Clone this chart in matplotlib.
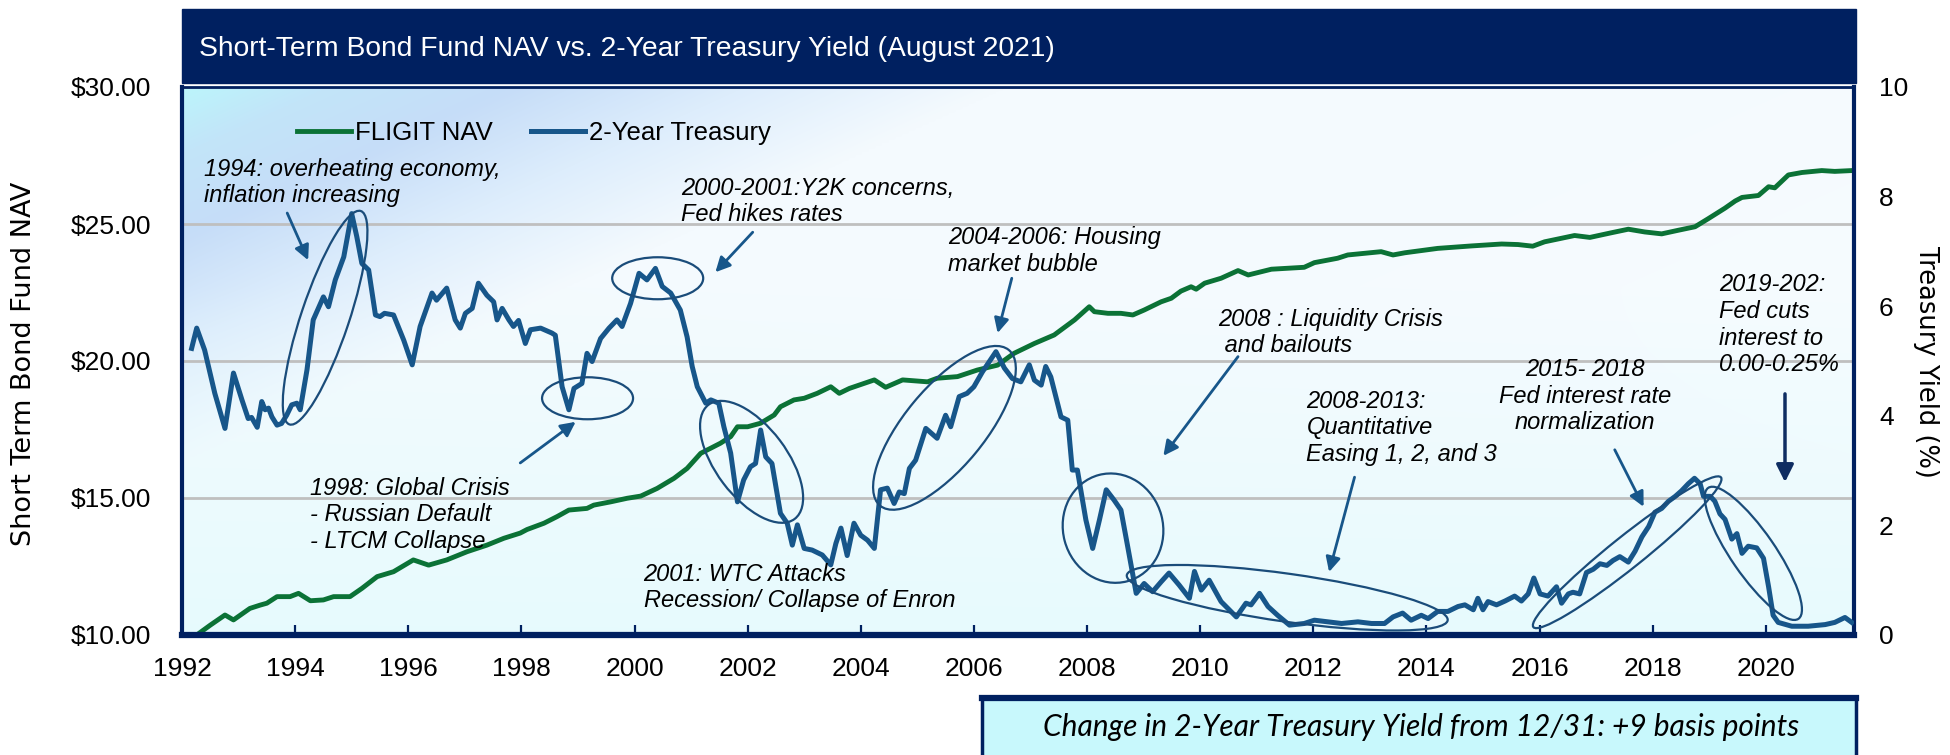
import matplotlib
matplotlib.use("Agg")
import matplotlib.pyplot as plt
import matplotlib.transforms as mtransforms
from matplotlib.patches import Ellipse, Rectangle
from matplotlib.lines import Line2D
import numpy as np

# 2-Year Treasury yield (%)
tsy_years = [1992.17, 1992.26, 1992.40, 1992.58, 1992.76, 1992.91, 1993.06, 1993.17, 1993.23, 1993.33,
             1993.41, 1993.47, 1993.53, 1993.59, 1993.68, 1993.76, 1993.85, 1993.94, 1994.03, 1994.09,
             1994.21, 1994.32, 1994.50, 1994.59, 1994.71, 1994.86, 1995.00, 1995.09, 1995.18, 1995.30,
             1995.42, 1995.50, 1995.58, 1995.74, 1995.92, 1996.07, 1996.21, 1996.42, 1996.50, 1996.68,
             1996.83, 1996.92, 1997.01, 1997.13, 1997.24, 1997.39, 1997.51, 1997.57, 1997.66, 1997.78,
             1997.86, 1997.95, 1998.07, 1998.16, 1998.34, 1998.54, 1998.60, 1998.72, 1998.84, 1998.93,
             1999.07, 1999.16, 1999.25, 1999.40, 1999.55, 1999.69, 1999.78, 1999.93, 2000.08, 2000.22,
             2000.37, 2000.49, 2000.64, 2000.81, 2000.93, 2001.02, 2001.11, 2001.26, 2001.35, 2001.49,
             2001.58, 2001.70, 2001.82, 2001.93, 2002.05, 2002.14, 2002.23, 2002.32, 2002.43, 2002.58,
             2002.70, 2002.79, 2002.88, 2003.00, 2003.14, 2003.32, 2003.47, 2003.56, 2003.65, 2003.76,
             2003.88, 2004.00, 2004.12, 2004.24, 2004.35, 2004.47, 2004.59, 2004.68, 2004.77, 2004.86,
             2004.97, 2005.15, 2005.35, 2005.50, 2005.59, 2005.74, 2005.88, 2006.00, 2006.15, 2006.39,
             2006.54, 2006.68, 2006.83, 2006.98, 2007.07, 2007.19, 2007.27, 2007.36, 2007.54, 2007.66,
             2007.74, 2007.83, 2007.98, 2008.10, 2008.22, 2008.34, 2008.48, 2008.60, 2008.72, 2008.87,
             2009.01, 2009.16, 2009.31, 2009.45, 2009.63, 2009.81, 2009.90, 2010.02, 2010.16, 2010.37,
             2010.64, 2010.81, 2010.90, 2011.05, 2011.20, 2011.37, 2011.58, 2011.84, 2012.02, 2012.26,
             2012.50, 2012.79, 2013.03, 2013.26, 2013.41, 2013.58, 2013.73, 2013.91, 2014.03, 2014.20,
             2014.38, 2014.56, 2014.68, 2014.83, 2014.91, 2015.00, 2015.09, 2015.24, 2015.39, 2015.56,
             2015.68, 2015.80, 2015.90, 2016.01, 2016.15, 2016.30, 2016.39, 2016.51, 2016.59, 2016.71,
             2016.83, 2016.95, 2017.07, 2017.19, 2017.30, 2017.42, 2017.57, 2017.69, 2017.81, 2017.93,
             2018.04, 2018.16, 2018.28, 2018.40, 2018.51, 2018.63, 2018.74, 2018.84, 2018.90, 2019.02,
             2019.10, 2019.19, 2019.28, 2019.40, 2019.49, 2019.58, 2019.69, 2019.84, 2019.96, 2020.05,
             2020.13, 2020.22, 2020.46, 2020.75, 2021.05, 2021.22, 2021.40, 2021.52]
tsy_yield = [5.23, 5.60, 5.20, 4.41, 3.77, 4.78, 4.29, 3.95, 3.97, 3.79,
             4.26, 4.11, 4.14, 3.98, 3.83, 3.86, 4.01, 4.20, 4.23, 4.11,
             4.84, 5.75, 6.17, 5.99, 6.48, 6.90, 7.69, 7.27, 6.78, 6.66,
             5.84, 5.81, 5.87, 5.84, 5.38, 4.93, 5.63, 6.24, 6.11, 6.33,
             5.75, 5.60, 5.87, 5.96, 6.42, 6.20, 6.08, 5.75, 5.96, 5.75,
             5.63, 5.74, 5.32, 5.57, 5.60, 5.51, 5.47, 4.53, 4.11, 4.50,
             4.59, 5.14, 4.99, 5.41, 5.60, 5.75, 5.63, 6.05, 6.60, 6.48,
             6.69, 6.36, 6.24, 5.93, 5.44, 4.90, 4.53, 4.23, 4.29, 4.23,
             3.80, 3.32, 2.43, 2.83, 3.07, 3.13, 3.74, 3.25, 3.13, 2.22,
             2.04, 1.64, 2.01, 1.58, 1.55, 1.46, 1.28, 1.67, 1.95, 1.45,
             2.04, 1.82, 1.73, 1.58, 2.65, 2.68, 2.40, 2.61, 2.58, 3.04,
             3.19, 3.77, 3.59, 4.01, 3.80, 4.35, 4.41, 4.53, 4.80, 5.17,
             4.87, 4.68, 4.62, 4.93, 4.65, 4.56, 4.90, 4.71, 3.98, 3.92,
             3.01, 3.01, 2.10, 1.58, 2.10, 2.65, 2.46, 2.28, 1.61, 0.76,
             0.94, 0.79, 0.97, 1.13, 0.91, 0.67, 1.16, 0.82, 1.00, 0.61,
             0.33, 0.58, 0.55, 0.76, 0.52, 0.36, 0.18, 0.21, 0.27, 0.24,
             0.21, 0.24, 0.21, 0.21, 0.33, 0.40, 0.27, 0.36, 0.30, 0.43,
             0.43, 0.52, 0.55, 0.46, 0.67, 0.46, 0.61, 0.55, 0.62, 0.71,
             0.62, 0.75, 1.04, 0.75, 0.71, 0.88, 0.58, 0.75, 0.78, 0.75,
             1.14, 1.20, 1.30, 1.27, 1.36, 1.43, 1.33, 1.53, 1.79, 1.98,
             2.24, 2.31, 2.44, 2.53, 2.63, 2.76, 2.86, 2.76, 2.53, 2.53,
             2.44, 2.21, 2.11, 1.75, 1.85, 1.49, 1.62, 1.59, 1.40, 0.88,
             0.36, 0.23, 0.16, 0.16, 0.19, 0.23, 0.32, 0.23]

# FLIGIT NAV ($)
nav_years = [1992.14, 1992.26, 1992.50, 1992.76, 1992.91, 1993.20, 1993.38, 1993.50, 1993.68, 1993.91,
             1994.06, 1994.27, 1994.50, 1994.68, 1994.97, 1995.18, 1995.45, 1995.74, 1996.09, 1996.36,
             1996.68, 1997.04, 1997.39, 1997.69, 1997.98, 1998.10, 1998.40, 1998.63, 1998.84, 1999.16,
             1999.28, 1999.58, 1999.87, 2000.11, 2000.40, 2000.70, 2000.93, 2001.17, 2001.52, 2001.70,
             2001.82, 2002.00, 2002.23, 2002.47, 2002.58, 2002.82, 2003.00, 2003.23, 2003.47, 2003.62,
             2003.80, 2004.24, 2004.44, 2004.74, 2005.18, 2005.35, 2005.71, 2006.06, 2006.42, 2006.71,
             2007.07, 2007.42, 2007.78, 2008.04, 2008.13, 2008.37, 2008.60, 2008.81, 2009.01, 2009.31,
             2009.49, 2009.66, 2009.84, 2009.93, 2010.08, 2010.37, 2010.67, 2010.85, 2011.26, 2011.84,
             2012.02, 2012.43, 2012.61, 2013.20, 2013.41, 2013.62, 2014.20, 2014.80, 2015.33, 2015.62,
             2015.88, 2016.09, 2016.39, 2016.62, 2016.89, 2017.27, 2017.57, 2017.86, 2018.16, 2018.45,
             2018.75, 2018.98, 2019.28, 2019.46, 2019.58, 2019.87, 2020.05, 2020.16, 2020.40, 2020.64,
             2020.99, 2021.22, 2021.52]
nav_values = [9.94, 10.00, 10.36, 10.73, 10.55, 10.97, 11.09, 11.16, 11.40, 11.40,
              11.52, 11.25, 11.28, 11.40, 11.40, 11.70, 12.13, 12.31, 12.74, 12.55,
              12.74, 13.04, 13.28, 13.53, 13.72, 13.85, 14.08, 14.32, 14.56, 14.62,
              14.74, 14.86, 14.99, 15.07, 15.35, 15.72, 16.08, 16.63, 17.00, 17.24,
              17.60, 17.60, 17.73, 18.03, 18.33, 18.58, 18.64, 18.82, 19.06, 18.82,
              19.00, 19.31, 19.04, 19.31, 19.24, 19.37, 19.43, 19.67, 19.85, 20.28,
              20.64, 20.95, 21.50, 21.98, 21.80, 21.74, 21.74, 21.68, 21.86, 22.16,
              22.29, 22.55, 22.71, 22.62, 22.84, 23.02, 23.30, 23.14, 23.35, 23.42,
              23.59, 23.75, 23.87, 23.99, 23.87, 23.95, 24.11, 24.20, 24.27, 24.25,
              24.19, 24.35, 24.48, 24.58, 24.51, 24.68, 24.81, 24.71, 24.64, 24.77,
              24.90, 25.19, 25.58, 25.84, 25.97, 26.04, 26.36, 26.32, 26.79, 26.88,
              26.95, 26.92, 26.95]

year_ticks = list(range(1992, 2021, 2))
nav_ticks = [10, 15, 20, 25, 30]
yield_ticks = [0, 2, 4, 6, 8, 10]

title = "Short-Term Bond Fund NAV vs. 2-Year Treasury Yield (August 2021)"
footer = "Change in 2-Year Treasury Yield from 12/31: +9 basis points"

# annotation text: (text, year, yield, horizontal alignment)
notes = [
    ("1994: overheating economy,\ninflation increasing", 1992.39, 8.26, "left"),
    ("1998: Global Crisis\n- Russian Default\n- LTCM Collapse", 1994.27, 2.19, "left"),
    ("2000-2001:Y2K concerns,\nFed hikes rates", 2000.83, 7.91, "left"),
    ("2001: WTC Attacks\nRecession/ Collapse of Enron", 2000.16, 0.87, "left"),
    ("2004-2006: Housing\nmarket bubble", 2005.54, 7.01, "left"),
    ("2008 : Liquidity Crisis\n and bailouts", 2010.32, 5.52, "left"),
    ("2008-2013:\nQuantitative\nEasing 1, 2, and 3", 2011.88, 3.78, "left"),
    ("2015- 2018\nFed interest rate\nnormalization", 2016.80, 4.36, "center"),
    ("2019-202:\nFed cuts\ninterest to\n0.00-0.25%", 2019.17, 5.66, "left"),
]
# arrows: (tail year, tail yield, head year, head yield)
arrows = [
    (1993.86, 7.70, 1994.23, 6.84),
    (1997.98, 3.14, 1998.96, 3.89),
    (2002.09, 7.35, 2001.43, 6.62),
    (2006.67, 6.51, 2006.42, 5.51),
    (2010.67, 5.08, 2009.35, 3.27),
    (2012.73, 2.88, 2012.28, 1.15),
    (2017.33, 3.38, 2017.84, 2.34),
]
# ellipses: (centre year, centre yield, width px, height px, angle)
circles = [
    (1994.53, 5.79, 225, 48, 71.5),
    (1999.17, 4.32, 91, 42, 0),
    (2000.41, 6.51, 91, 42, 0),
    (2002.07, 3.16, 143, 71, -53),
    (2005.48, 3.78, 202, 80, 50.4),
    (2008.46, 1.95, 100, 110, 15),
    (2011.54, 0.68, 324, 48, -8),
    (2017.55, 1.51, 240, 32, 38.6),
    (2019.78, 1.49, 159, 44, -55.4),
]

navy = "#002060"
green = "#0B7236"
blue = "#17568A"
ell_col = "#1A4C7A"

fig = plt.figure(figsize=(19.5, 7.55), dpi=100)
rect = [182 / 1950, 120 / 755, 1672 / 1950, 548 / 755]

# gradient background: cyan corner, blue band, white centre, cyan tint at the bottom
bg = fig.add_axes(rect, zorder=-1)
W, H = 1672, 548
xx, yy = np.meshgrid(np.linspace(0, W, 500), np.linspace(0, H, 180))
d = xx + 2.2 * yy
stops = [0, 140, 330, 560, 820, 4000]
cols = ["#BCF5FB", "#C2E5F9", "#C6DDF8", "#DDEDFC", "#F4FAFE", "#F8FDFF"]
rgb = np.array([matplotlib.colors.to_rgb(c) for c in cols])
img = np.dstack([np.interp(d, stops, rgb[:, k]) for k in range(3)])
tint = np.clip((yy - 200) / (H - 200), 0, 1)[..., None] * 0.75
img = img * (1 - tint) + np.array(matplotlib.colors.to_rgb("#E2FAFD")) * tint
bg.imshow(img, aspect="auto", interpolation="bilinear")
bg.axis("off")

ax = fig.add_axes(rect)
ax.patch.set_visible(False)
ax.plot(nav_years, nav_values, color=green, lw=3.5, solid_joinstyle="round", label="FLIGIT NAV")
ax.set_xlim(1992, 2021.56)
ax.set_ylim(10, 30)
ax.set_yticks(nav_ticks)
ax.set_yticklabels(["\\$%.2f" % v for v in nav_ticks])
ax.set_xticks(year_ticks)
ax.grid(axis="y", color="#BFBFBF", lw=2)
ax.set_axisbelow(True)
ax.tick_params(axis="x", direction="in", length=7, width=1.6, color=navy, pad=15.5, labelsize=19)
ax.tick_params(axis="y", length=0, pad=22, labelsize=19)
for side, lw in [("left", 3), ("right", 3), ("top", 2), ("bottom", 4.5)]:
    ax.spines[side].set_color(navy)
    ax.spines[side].set_linewidth(lw)

ax2 = ax.twinx()
ax2.plot(tsy_years, tsy_yield, color=blue, lw=3.6, solid_joinstyle="round", label="2-Year Treasury")
ax2.set_ylim(0, 10)
ax2.set_yticks(yield_ticks)
ax2.tick_params(axis="y", length=0, pad=18, labelsize=19)
for sp in ax2.spines.values():
    sp.set_visible(False)

for lab in ax.get_xticklabels() + ax.get_yticklabels() + ax2.get_yticklabels():
    lab.set_fontfamily("Liberation Sans")

h1, l1 = ax.get_legend_handles_labels()
h2, l2 = ax2.get_legend_handles_labels()
ax2.legend(h1 + h2, l1 + l2, loc="center left", bbox_to_anchor=(0.069, 0.916), ncol=2,
           frameon=False, prop={"family": "Liberation Sans", "size": 18.5}, handlelength=2.1,
           handletextpad=0.15, columnspacing=1.5, borderpad=0, borderaxespad=0)

for txt, x, y, ha in notes:
    ax2.text(x, y, txt, ha=ha, va="center", multialignment=ha, fontsize=17, style="italic",
             family="Liberation Sans", color="black", zorder=5)

for x0, y0, x1, y1 in arrows:
    ax2.annotate("", xy=(x1, y1), xytext=(x0, y0),
                 arrowprops=dict(arrowstyle="-|>", color=blue, lw=2, mutation_scale=22, shrinkA=0, shrinkB=0))
ax2.annotate("", xy=(2020.34, 2.79), xytext=(2020.34, 4.40),
             arrowprops=dict(arrowstyle="-|>", color="#0F2D62", lw=2.5, mutation_scale=26, shrinkA=0, shrinkB=0))

for cx, cy, w, h, ang in circles:
    tr = fig.dpi_scale_trans + mtransforms.ScaledTranslation(cx, cy, ax2.transData)
    ax2.add_patch(Ellipse((0, 0), w / 100, h / 100, angle=ang, transform=tr,
                          fill=False, edgecolor=ell_col, lw=1.6, zorder=4))

# title bar
fig.patches.append(Rectangle((182 / 1950, 1 - 83 / 755), 1674 / 1950, 74 / 755,
                             transform=fig.transFigure, color=navy, zorder=1))
fig.text(199 / 1950, 1 - 49 / 755, title, color="white", fontsize=20.3, va="center", ha="left",
         family=["Liberation Sans Narrow", "Liberation Sans"])

fig.text(24 / 1950, 0.518, "Short Term Bond Fund NAV", rotation=90, va="center", ha="center",
         family="DejaVu Sans", fontsize=19.5)
fig.text(1926 / 1950, 0.52, "Treasury Yield (%)", rotation=270, va="center", ha="center",
         family="DejaVu Sans", fontsize=18.5)

# footer box
fig.patches.append(Rectangle((982 / 1950, -0.02), 874 / 1950, 58 / 755 + 0.02, transform=fig.transFigure,
                             facecolor="#C8F8FC", edgecolor=navy, lw=2.5, zorder=1))
fig.lines.append(Line2D([982 / 1950, 1856 / 1950], [1 - 698 / 755] * 2, transform=fig.transFigure,
                        color=navy, lw=4.5, zorder=2))
fig.text(0.729, 0.037, footer, ha="center", va="center", style="italic", family="Lato", fontsize=21.5)

fig.savefig("out.png", dpi=100)
